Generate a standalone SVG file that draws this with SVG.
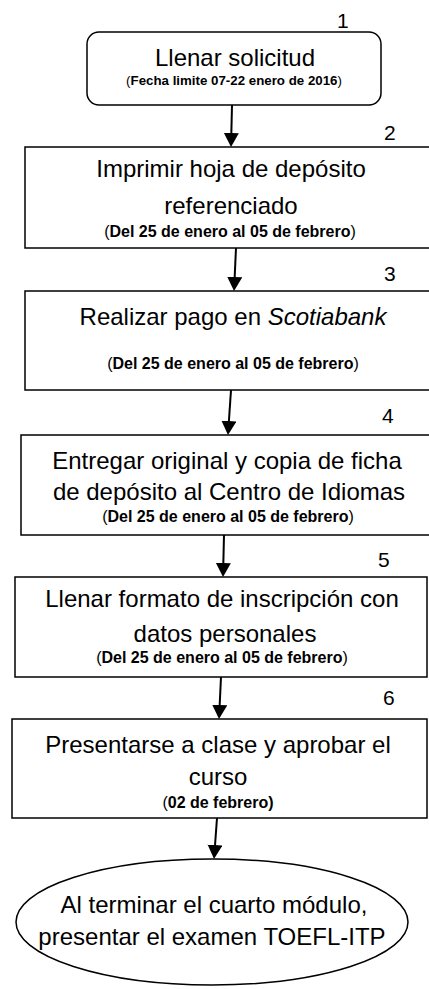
<svg xmlns="http://www.w3.org/2000/svg" width="429" height="989" viewBox="0 0 429 989">
<defs>
<marker id="ah" markerUnits="userSpaceOnUse" markerWidth="16" markerHeight="16" refX="6" refY="7.5" orient="auto">
<path d="M0,0 L14,7.5 L0,15 z" fill="#000"/>
</marker>
</defs>
<style>
.box{fill:#fff;stroke:#000;stroke-width:1.5}
.t{font-family:"Liberation Sans",Arial,sans-serif;font-size:24px;fill:#000;text-anchor:middle}
.s{font-family:"Liberation Sans",Arial,sans-serif;font-size:16px;fill:#000;text-anchor:middle}
.s1{font-size:13.3px}
.b{font-weight:bold}
.n{font-family:"Liberation Sans",Arial,sans-serif;font-size:21px;fill:#000}
.c{stroke:#000;stroke-width:2;fill:none;marker-end:url(#ah)}
</style>
<rect width="429" height="989" fill="#fff"/>
<g id="connectors">
<line class="c" x1="232" y1="105" x2="231.2" y2="139"/>
<line class="c" x1="236" y1="248" x2="234.4" y2="283"/>
<line class="c" x1="231" y1="390" x2="228.5" y2="427"/>
<line class="c" x1="224" y1="535" x2="223.2" y2="569"/>
<line class="c" x1="221" y1="677" x2="219.4" y2="711"/>
<line class="c" x1="217" y1="818" x2="214.6" y2="851"/>
</g>
<g id="step1">
<rect class="box" x="87" y="32" width="294" height="73" rx="12"/>
<text class="n" x="337" y="28">1</text>
<text class="t" x="235" y="66">Llenar solicitud</text>
<text class="s s1" x="234" y="85">(<tspan class="b">Fecha limite 07-22 enero de 2016</tspan>)</text>
</g>
<g id="step2">
<rect class="box" x="25" y="147" width="412" height="101"/>
<text class="n" x="384" y="140">2</text>
<text class="t" x="231" y="177">Imprimir hoja de depósito</text>
<text class="t" x="231" y="214">referenciado</text>
<text class="s" x="230" y="237">(<tspan class="b">Del 25 de enero al 05 de febrero</tspan>)</text>
</g>
<g id="step3">
<rect class="box" x="25" y="291" width="414" height="99"/>
<text class="n" x="384" y="281">3</text>
<text class="t" x="233" y="325">Realizar pago en <tspan font-style="italic">Scotiabank</tspan></text>
<text class="s" x="233" y="369">(<tspan class="b">Del 25 de enero al 05 de febrero</tspan>)</text>
</g>
<g id="step4">
<rect class="box" x="21" y="435" width="412" height="100"/>
<text class="n" x="382" y="423">4</text>
<text class="t" x="227" y="469">Entregar original y copia de ficha</text>
<text class="t" x="229" y="500">de depósito al Centro de Idiomas</text>
<text class="s" x="228" y="522">(<tspan class="b">Del 25 de enero al 05 de febrero</tspan>)</text>
</g>
<g id="step5">
<rect class="box" x="15" y="577" width="412" height="100"/>
<text class="n" x="378" y="567">5</text>
<text class="t" x="222" y="607">Llenar formato de inscripción con</text>
<text class="t" x="225" y="642">datos personales</text>
<text class="s" x="222" y="663">(<tspan class="b">Del 25 de enero al 05 de febrero</tspan>)</text>
</g>
<g id="step6">
<rect class="box" x="12" y="719" width="415" height="99"/>
<text class="n" x="383" y="705">6</text>
<text class="t" x="218" y="753">Presentarse a clase y aprobar el</text>
<text class="t" x="218" y="785">curso</text>
<text class="s" x="218" y="808">(<tspan class="b">02 de febrero)</tspan></text>
</g>
<g id="final">
<ellipse class="box" cx="212" cy="922" rx="196" ry="63"/>
<text class="t" x="214" y="913">Al terminar el cuarto módulo,</text>
<text class="t" x="212" y="945">presentar el examen TOEFL-ITP</text>
</g>
</svg>
